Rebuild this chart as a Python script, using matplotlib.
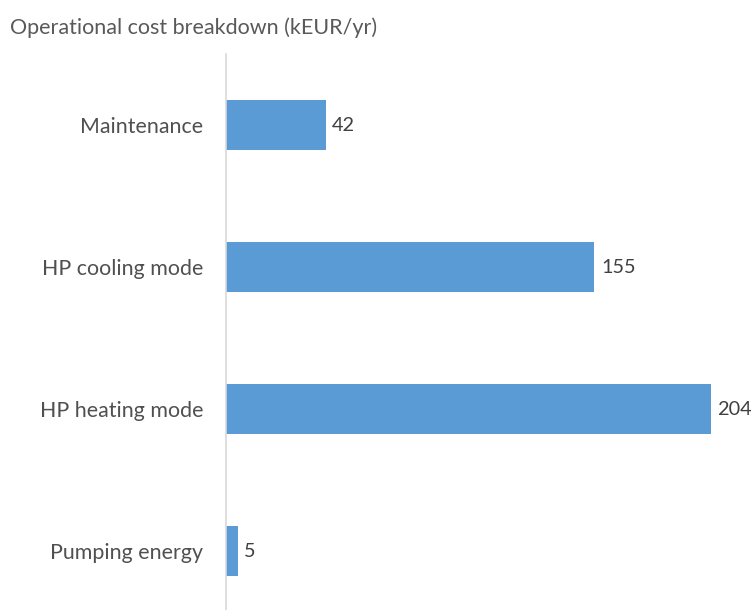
import matplotlib
matplotlib.use('Agg')
import matplotlib.pyplot as plt

categories = ['Maintenance', 'HP cooling mode', 'HP heating mode', 'Pumping energy']
costs = [42, 155, 204, 5]

plt.rcParams['font.family'] = ['Lato', 'DejaVu Sans']

fig = plt.figure(figsize=(7.51, 6.10), dpi=100)
ax = fig.add_axes([226/751, 0, (749-226)/751, (610-54)/610])

pos = list(range(len(categories)))
bars = ax.barh(pos, costs, height=0.35, color='#5B9BD5')

ax.set_xlim(0, 220)
ax.set_ylim(3.415, -0.5)
ax.set_yticks(pos)
ax.set_yticklabels(categories, fontsize=15.4, color='#505050')
ax.tick_params(axis='y', length=0, pad=16.5)
ax.set_xticks([])

for s in ['top', 'right', 'bottom']:
    ax.spines[s].set_visible(False)
ax.spines['left'].set_color('#d9d9d9')
ax.spines['left'].set_linewidth(1.2)

for b, v in zip(bars, costs):
    ax.text(b.get_width() + 2.7, b.get_y() + b.get_height()/2, str(v),
            va='center', ha='left', fontsize=14.3, color='#404040')

fig.text(10/751, 1 - 28/610, 'Operational cost breakdown (kEUR/yr)',
         fontsize=15.5, color='#595959', va='center', ha='left')

fig.savefig('out.png', dpi=100)
